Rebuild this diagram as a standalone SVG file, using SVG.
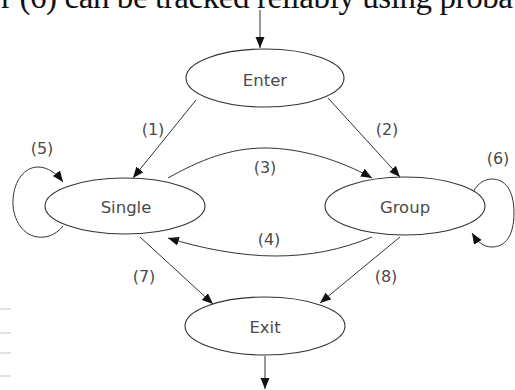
<svg xmlns="http://www.w3.org/2000/svg" width="515" height="390" viewBox="0 0 515 390">
  <style>
    .node ellipse { fill: #ffffff; stroke: #333333; stroke-width: 1.1; }
    .node text { font-family: "DejaVu Sans", "Liberation Sans", sans-serif; font-size: 16.5px; fill: #4a4a4a; text-anchor: middle; }
    .edges path { fill: none; stroke: #333333; stroke-width: 1; marker-end: url(#arrow); }
    .lbl { font-family: "DejaVu Sans", "Liberation Sans", sans-serif; font-size: 16px; fill: #4a4a4a; text-anchor: middle; }
    .caption { font-family: "Liberation Serif", "Times New Roman", serif; font-size: 33px; fill: #111111; }
    .rule { stroke: #e2e2e2; stroke-width: 2; }
  </style>
  <defs>
    <marker id="arrow" markerUnits="userSpaceOnUse" markerWidth="12" markerHeight="10" refX="11" refY="4.5" orient="auto">
      <path d="M0,0 L11,4.5 L0,9 z" fill="#111111"/>
    </marker>
  </defs>

  <rect width="515" height="390" fill="#ffffff"/>

  <!-- running text line above the figure -->
  <text class="caption" x="1" y="8" textLength="512" lengthAdjust="spacing">r (6) can be tracked reliably using proba</text>

  <!-- faint rules at left margin -->
  <line class="rule" x1="0" y1="309" x2="11" y2="309"/>
  <line class="rule" x1="0" y1="333" x2="11" y2="333"/>
  <line class="rule" x1="0" y1="353" x2="11" y2="353"/>
  <line class="rule" x1="0" y1="376" x2="11" y2="376"/>

  <g class="edges">
    <path d="M260,10 L260,48"/>
    <path d="M196,100 L133,178"/>
    <path d="M328,98 L400,177"/>
    <path d="M168,178 C200,160 230,148 265,148 C300,148 340,160 372,178"/>
    <path d="M372,237 C340,250 310,256 275,256 C240,256 200,248 168,238"/>
    <path d="M63,226 C55,236 45,238 38,237 C20,235 12,215 13,200 C14,180 25,167 38,167 C48,167 57,174 63,182"/>
    <path d="M473,192 C478,183 485,179 492,179 C505,179 514,190 514,213 C514,236 505,247 492,247 C483,247 477,241 472,233"/>
    <path d="M140,237 L213,304"/>
    <path d="M400,237 L320,303"/>
    <path d="M265,356 L265,389"/>
  </g>

  <g class="edge-labels">
    <text class="lbl" x="153" y="135">(1)</text>
    <text class="lbl" x="387" y="135">(2)</text>
    <text class="lbl" x="265" y="173">(3)</text>
    <text class="lbl" x="269" y="245">(4)</text>
    <text class="lbl" x="42" y="154">(5)</text>
    <text class="lbl" x="498" y="164">(6)</text>
    <text class="lbl" x="144" y="282">(7)</text>
    <text class="lbl" x="386" y="282">(8)</text>
  </g>

  <g id="enter" class="node">
    <ellipse cx="265" cy="78" rx="79" ry="29"/>
    <text x="265" y="86">Enter</text>
  </g>
  <g id="single" class="node">
    <ellipse cx="125" cy="206" rx="80" ry="28"/>
    <text x="126" y="213">Single</text>
  </g>
  <g id="group" class="node">
    <ellipse cx="405" cy="206" rx="80" ry="29"/>
    <text x="405" y="213">Group</text>
  </g>
  <g id="exit" class="node">
    <ellipse cx="265" cy="326" rx="80" ry="29"/>
    <text x="265" y="333">Exit</text>
  </g>
</svg>
